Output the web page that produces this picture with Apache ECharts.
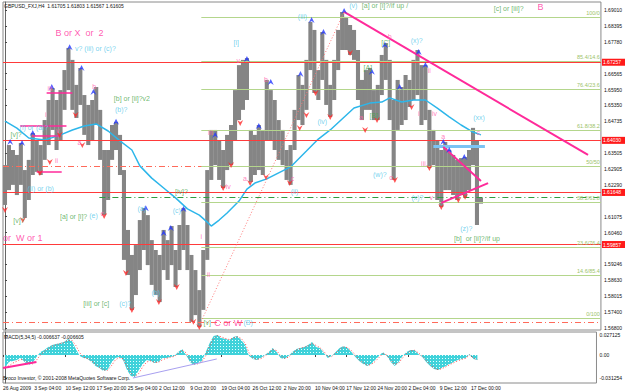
<!DOCTYPE html>
<html><head><meta charset="utf-8">
<script src="https://cdn.jsdelivr.net/npm/echarts@6/dist/echarts.min.js"></script>
<style>html,body{margin:0;padding:0;background:#fff}#c{width:625px;height:392px}</style>
</head><body><div id="c"></div>
<script>
// ---------- DATA ----------
const priceHigh = [1.6305,1.6382,1.6363,1.6344,1.6390,1.6286,1.6325,1.6428,1.6401,1.6382,
1.6478,1.6555,1.6601,1.6555,1.6593,1.6670,1.6755,1.6709,1.6613,1.6678,
1.6574,1.6536,1.6555,1.6605,1.6517,1.6363,1.6363,1.6459,1.6471,1.6421,
1.6286,1.6056,1.5960,1.5998,1.6094,1.6140,1.6113,1.6017,1.5979,1.5960,
1.6056,1.6017,1.6071,1.5979,1.6075,1.6140,1.6075,1.5960,1.5902,1.5825,
1.5979,1.6286,1.6440,1.6440,1.6401,1.6363,1.6421,1.6459,1.6593,1.6689,
1.6709,1.6716,1.6440,1.6421,1.6459,1.6440,1.6632,1.6593,1.6555,1.6478,
1.6440,1.6363,1.6382,1.6517,1.6651,1.6613,1.6709,1.6855,1.6824,1.6670,
1.6816,1.6709,1.6613,1.6709,1.6824,1.6893,1.6874,1.6843,1.6824,1.6747,
1.6632,1.6670,1.6678,1.6593,1.6613,1.6728,1.6774,1.6709,1.6555,1.6632,
1.6605,1.6651,1.6632,1.6709,1.6747,1.6689,1.6689,1.6517,1.6440,1.6401,
1.6363,1.6394,1.6363,1.6344,1.6325,1.6332,1.6336,1.6363,1.6448,1.6401,1.6180];
const priceLow = [1.6152,1.6209,1.6229,1.6190,1.6229,1.6102,1.6171,1.6267,1.6279,1.6267,
1.6325,1.6382,1.6440,1.6363,1.6401,1.6517,1.6593,1.6517,1.6486,1.6536,
1.6421,1.6382,1.6401,1.6459,1.6325,1.6113,1.6171,1.6325,1.6363,1.6267,
1.5941,1.5883,1.5749,1.5806,1.5902,1.5979,1.5921,1.5845,1.5806,1.5779,
1.5902,1.5864,1.5921,1.5837,1.5902,1.5979,1.5902,1.5703,1.5729,1.5683,
1.5749,1.5941,1.6248,1.6305,1.6248,1.6217,1.6286,1.6305,1.6401,1.6478,
1.6517,1.6555,1.6240,1.6267,1.6286,1.6267,1.6401,1.6401,1.6363,1.6325,
1.6305,1.6248,1.6229,1.6363,1.6478,1.6459,1.6517,1.6670,1.6582,1.6555,
1.6632,1.6536,1.6490,1.6555,1.6670,1.6747,1.6747,1.6728,1.6709,1.6555,
1.6478,1.6517,1.6517,1.6478,1.6478,1.6574,1.6632,1.6478,1.6248,1.6440,
1.6459,1.6478,1.6528,1.6555,1.6574,1.6459,1.6478,1.6294,1.6305,1.6171,
1.6144,1.6209,1.6209,1.6190,1.6171,1.6190,1.6183,1.6209,1.6305,1.6075,1.6157];
const maPoints = [[0,1.6474],[3,1.6447],[6,1.6409],[10,1.6401],[14,1.6421],[17,1.6440],[20,1.6455],
[23,1.6463],[26,1.6436],[29,1.6398],[32,1.6363],[34,1.6302],[37,1.6255],[40,1.6217],[43,1.6179],
[46,1.6137],[49,1.6113],[51,1.6086],[52,1.6071],[54,1.6094],[56,1.6121],[59,1.6167],[61,1.6213],
[63,1.6236],[66,1.6252],[69,1.6275],[72,1.6298],[76,1.6359],[79,1.6405],[82,1.6440],[85,1.6482],
[88,1.6524],[92,1.6543],[95,1.6547],[97,1.6563],[100,1.6547],[103,1.6555],[106,1.6555],[109,1.6524],
[112,1.6490],[115,1.6459],[118,1.6432],[120,1.6421]];
const macdHist = [-0.0177,-0.0095,-0.0082,-0.0068,-0.0041,-0.0095,-0.0136,-0.0109,-0.0027,0.0041,
0.0068,0.0109,0.0136,0.0150,0.0163,0.0177,0.0218,0.0190,0.0082,-0.0014,
-0.0041,-0.0054,-0.0095,-0.0150,-0.0177,-0.0218,-0.0204,-0.0109,-0.0041,-0.0027,
-0.0068,-0.0204,-0.0286,-0.0299,-0.0204,-0.0122,-0.0068,-0.0082,-0.0109,-0.0095,
-0.0041,-0.0041,-0.0027,-0.0014,0.0041,0.0082,0.0000,-0.0095,-0.0136,-0.0109,
-0.0082,0.0041,0.0163,0.0258,0.0272,0.0231,0.0218,0.0204,0.0245,0.0258,
0.0204,0.0136,-0.0014,-0.0054,-0.0068,-0.0041,0.0000,0.0041,0.0095,0.0041,
-0.0041,-0.0054,-0.0014,0.0041,0.0082,0.0095,0.0109,0.0136,0.0177,0.0109,
0.0095,0.0027,-0.0041,-0.0014,0.0041,0.0095,0.0122,0.0095,0.0041,-0.0027,
-0.0082,-0.0122,-0.0150,-0.0122,-0.0068,-0.0014,0.0041,-0.0014,-0.0095,-0.0150,
-0.0095,-0.0014,0.0041,0.0068,0.0068,0.0014,-0.0027,-0.0095,-0.0150,-0.0190,
-0.0204,-0.0177,-0.0150,-0.0122,-0.0095,-0.0068,-0.0054,-0.0041,0.0014,-0.0054,-0.0068];
const macdSignal = [-0.0160,-0.0150,-0.0110,-0.0085,-0.0060,-0.0070,-0.0110,-0.0120,-0.0070,0.0000,
0.0050,0.0085,0.0120,0.0140,0.0155,0.0170,0.0200,0.0200,0.0130,0.0030,
-0.0030,-0.0050,-0.0080,-0.0125,-0.0165,-0.0200,-0.0210,-0.0150,-0.0070,-0.0035,
-0.0050,-0.0150,-0.0250,-0.0290,-0.0250,-0.0160,-0.0095,-0.0080,-0.0100,-0.0100,
-0.0065,-0.0045,-0.0030,-0.0020,0.0020,0.0065,0.0030,-0.0060,-0.0120,-0.0120,
-0.0095,-0.0010,0.0120,0.0225,0.0265,0.0245,0.0225,0.0210,0.0230,0.0250,
0.0225,0.0160,0.0030,-0.0040,-0.0060,-0.0050,-0.0015,0.0025,0.0075,0.0060,
-0.0010,-0.0045,-0.0030,0.0020,0.0065,0.0090,0.0105,0.0125,0.0160,0.0130,
0.0100,0.0050,-0.0020,-0.0020,0.0025,0.0075,0.0110,0.0100,0.0060,0.0000,
-0.0065,-0.0105,-0.0140,-0.0130,-0.0090,-0.0035,0.0020,0.0000,-0.0070,-0.0130,
-0.0110,-0.0040,0.0020,0.0055,0.0065,0.0030,-0.0015,-0.0075,-0.0130,-0.0175,
-0.0200,-0.0185,-0.0160,-0.0130,-0.0105,-0.0080,-0.0060,-0.0045,0.0000,-0.0040,-0.0062];
const dateLabels = ['26 Aug 2009','3 Sep 04:00','10 Sep 12:00','17 Sep 20:00','25 Sep 04:00','2 Oct 12:00',
'9 Oct 20:00','19 Oct 04:00','26 Oct 12:00','2 Nov 20:00','10 Nov 04:00','17 Nov 12:00','24 Nov 20:00',
'2 Dec 04:00','9 Dec 12:00','17 Dec 00:00'];
const priceTicks = [1.69010,1.68395,1.67780,1.66565,1.65950,1.65350,1.64735,1.63505,1.62905,1.62290,
1.61075,1.60460,1.59246,1.58630,1.58015,1.57400,1.56800];
const macdTicks = [0.027125, 0, -0.031254];
const redLevels = [1.67257, 1.64030, 1.61648, 1.59857];
const redDashLevels = [1.6348, 1.5749];
const fibNames = ['100/0','85.4/14.6','76.4/23.6','61.8/38.2','50/50','38.2/61.8','23.6/76.4','14.6/85.4','0/100'];
const fibLevels = [1.6874,1.6705,1.6597,1.6440,1.6302,1.6163,1.5990,1.5883,1.5718];
const fibFromBar = 49.5;
const greenDashLevel = 1.6183, greenDashFromBar = 23.8;
const blueLevel = 1.6378, blueFromBar = 108, blueToBar = 121;
const upFractals = [[1.3,1.6394],[4.3,1.6390],[7,1.6428],[11.8,1.6605],[16.3,1.6758],[19.3,1.6678],[22.3,1.6586],
[28,1.6471],[35.5,1.6139],[40,1.6044],[41.8,1.6063],[45,1.6136],[53,1.6421],[61,1.6712],[64,1.6455],
[67,1.6624],[74.5,1.6655],[77.3,1.6862],[80.3,1.6816],[85.5,1.6897],[92.5,1.6663],[95.8,1.6766],
[99.5,1.6605],[104.3,1.6739],[106,1.6689],[110.5,1.6394],[112,1.6363],[115.8,1.6336]];
const downFractals = [[0,1.6133],[4.5,1.6094],[8.8,1.6275],[11.3,1.6317],[13.8,1.6421],[17.8,1.6497],
[19.5,1.6382],[25,1.6110],[30.5,1.5891],[32,1.5749],[38.8,1.5779],[43.3,1.5837],[47.5,1.5703],[49,1.5683],
[55,1.6217],[57,1.6305],[59.3,1.6467],[61.8,1.6236],[65.8,1.6259],[71.8,1.6236],[74.3,1.6447],[76,1.6497],
[78.3,1.6582],[82,1.6490],[87,1.6735],[90.8,1.6440],[93.8,1.6478],[98.3,1.6248],[102.5,1.6528],
[107,1.6294],[110,1.6144],[114.3,1.6171],[116,1.6183]];
const pinkTrend = [[[85.5,1.6893],[147,1.6344]],[[110.5,1.6375],[120,1.6244]],[[110,1.6160],[121.8,1.6236]]];
const pinkShort = [[[10.5,1.6582],[17,1.6582]],[[3.8,1.6455],[15.5,1.6455]],[[6.8,1.6417],[13.8,1.6417]],[[8,1.6279],[14.3,1.6279]]];
const dottedTrend = [[48.8,1.5683],[85.5,1.6893]];
const macdPinkLine = [[-0.5,-0.0177],[8,-0.0095]];
const macdPurpleLine = [[32.5,-0.0313],[53.8,-0.0054]];
const bigPinkText = [['B or X  or  2',18.8,1.6812],['or  W or 1',4.5,1.6025],['C or W',56.3,1.5699],['B',135,1.6912]];
const smallPinkText = [['iii',11.3,1.6601],['b',22.5,1.6605],['i',10.3,1.6498],['ii',13,1.6321],['v',13.3,1.6436],
['a',18.8,1.6390],['c',24.5,1.6121],['v',58.8,1.6705],['iii',51.8,1.6432],['iv',56.3,1.6221],['a',60.5,1.6255],
['c',72.5,1.6255],['b',65.8,1.6632],['i',49.5,1.6029],['ii',51.3,1.5883],['a',89.8,1.6486],['b',97,1.6797],
['c',97.3,1.6259],['ii',107,1.6670],['i',104.3,1.6505],['iv',108.3,1.6505],['iii',105.5,1.6313],['v',107.5,1.6179],
['c',119.3,1.6432],['a',110.5,1.6413]];
const cyanText = [['v? (iii) or (c)?',22.8,1.6751],['(b)?',29.3,1.6520],['(i) or (a)?',7.3,1.6451],['(ii) or (b)',9,1.6217],
['(e)',22.3,1.6113],['(a)',34.5,1.6140],['(c)',43.3,1.6132],['(c)?',30.3,1.5775],['(b)',38,1.5814],['(B)',61.3,1.5699],
['[i]',58.3,1.6774],['(ii)',73,1.6202],['(iii)',75,1.6874],['(iv)',80,1.6474],['(v)',87.8,1.6916],['(w)?',94.5,1.6267],
['(x)?',103.8,1.6785],['(xx)',119.5,1.6486],['(x)?',104,1.6179],['(z)?',116.3,1.6063]];
const greenText = [['[b] or [ii]?v2',32,1.6559],['[v]?',2.8,1.6421],['[v]?',3.5,1.6094],['[a] or [i]?',17.3,1.6106],
['[iv]?',44.5,1.6202],['[iii] or [c]',23,1.5775],['[v]',51,1.5699],['[a] or [i]?/if up /',95.8,1.6916],
['[c] or [iii]?',127,1.6908],['[A]',91.5,1.6678],['[B]',93,1.6497],['[C]',96,1.6774],['[b]  or [ii]?/if up',119,1.6025]];
const headerText = 'GBPUSD_FXJ,H4  1.61705 1.61803 1.61567 1.61605';
const macdText = 'MACD(5,34,5) -0.006637 -0.006605';
const copyText = 'Broco Investor, \u00a9 2001-2008 MetaQuotes Software Corp.';

// ---------- CHART ----------
const FONT = 'Liberation Sans';
const X_MAX = 150.25, TICK_STEP = 7.925;
const dateTickPos = dateLabels.map((_, k) => k * TICK_STEP - 0.5);

function dotPattern() {
  const c = document.createElement('canvas'); c.width = 3; c.height = 3;
  const g = c.getContext('2d');
  g.fillStyle = '#3fd2da'; g.fillRect(0, 0, 3, 3);
  g.fillStyle = '#e8ffff'; g.fillRect(1, 1, 1, 1);
  return c;
}
function textSeries(arr, color, size) {
  return {type:'scatter', xAxisIndex:0, yAxisIndex:0, symbolSize:1, silent:true, z:8,
    itemStyle:{color:'rgba(0,0,0,0)'},
    data: arr.map(a => [a[1], a[2], a[0]]),
    label:{show:true, position:'inside', formatter:p => p.value[2], color, fontSize:size, fontFamily:FONT}};
}
function seg(pts, style) { return [{coord:pts[0], lineStyle:style}, {coord:pts[1]}]; }

const mainLines = [];
redLevels.forEach(v => mainLines.push({yAxis:v, lineStyle:{color:'#ff3a3a', width:1, type:'solid'},
  label:{show:true, position:'end', formatter:v.toFixed(5), backgroundColor:'#ff1a1a', color:'#fff',
    fontSize:5, fontFamily:FONT, padding:[1,6,1,1], distance:1}}));
redDashLevels.forEach(v => mainLines.push({yAxis:v, lineStyle:{color:'#ff6a5a', width:1, type:[6,3,1,3]}}));
fibLevels.forEach((v, k) => mainLines.push([{coord:[fibFromBar, v], lineStyle:{color:'#b4d68c', width:1, type:'solid'},
  label:{show:true, position:'insideEndTop', formatter:fibNames[k], color:'#9cc36a', fontSize:5.5, fontFamily:FONT, distance:1}},
  {coord:[X_MAX, v]}]));
mainLines.push(seg([[greenDashFromBar, greenDashLevel],[X_MAX, greenDashLevel]], {color:'#2e9a3e', width:1, type:[6,3,1,3]}));
mainLines.push(seg([[blueFromBar, blueLevel],[blueToBar, blueLevel]], {color:'#7cc4f4', width:3, type:'solid'}));
pinkTrend.forEach(p => mainLines.push(seg(p, {color:'#ff2a9a', width:2, type:'solid'})));
pinkShort.forEach(p => mainLines.push(seg(p, {color:'#ff2a9a', width:1.5, type:'solid'})));
mainLines.push(seg(dottedTrend, {color:'#ff7a7a', width:1, type:[1,2]}));

const option = {
  animation:false,
  backgroundColor:'#ffffff',
  title:[
    {text:headerText, left:4, top:3, padding:0, textStyle:{fontSize:5, fontWeight:'normal', color:'#111', fontFamily:FONT}},
    {text:macdText, left:4, top:334, padding:0, textStyle:{fontSize:5, fontWeight:'normal', color:'#111', fontFamily:FONT}},
    {text:copyText, left:3, top:375, padding:0, textStyle:{fontSize:5, fontWeight:'normal', color:'#111', fontFamily:FONT}}
  ],
  grid:[
    {left:3, top:2, width:603, height:328, show:true, borderColor:'#8a8a8a', borderWidth:1, backgroundColor:'transparent'},
    {left:3, top:332, width:603, height:51, show:true, borderColor:'#8a8a8a', borderWidth:1, backgroundColor:'transparent'}
  ],
  xAxis:[
    {gridIndex:0, type:'value', min:-0.5, max:X_MAX, show:false},
    {gridIndex:1, type:'value', min:-0.5, max:X_MAX, splitLine:{show:false}, axisLine:{show:false},
      axisTick:{show:true, customValues:dateTickPos, length:2, lineStyle:{color:'#444'}},
      axisLabel:{customValues:dateTickPos, align:'left', margin:2, fontSize:5, color:'#111', fontFamily:FONT,
        formatter:v => dateLabels[Math.round((v + 0.5) / TICK_STEP)]}}
  ],
  yAxis:[
    {gridIndex:0, type:'value', position:'right', min:1.56718, max:1.69313, splitLine:{show:false},
      axisLine:{show:true, lineStyle:{color:'#666'}},
      axisTick:{show:true, customValues:priceTicks, length:2, lineStyle:{color:'#444'}},
      axisLabel:{customValues:priceTicks, margin:3, fontSize:5, color:'#111', fontFamily:FONT, formatter:v => v.toFixed(5)}},
    {gridIndex:1, type:'value', position:'right', min:-0.03808, max:0.03128, splitLine:{show:false},
      axisLine:{show:true, lineStyle:{color:'#666'}},
      axisTick:{show:true, customValues:macdTicks, length:2, lineStyle:{color:'#444'}},
      axisLabel:{customValues:macdTicks, margin:3, fontSize:5, color:'#111', fontFamily:FONT,
        formatter:v => v === 0 ? '0.00' : v.toFixed(6)}}
  ],
  series:[
    {type:'custom', xAxisIndex:0, yAxisIndex:0, z:2, silent:true,
      data: priceHigh.map((h, i) => [i, priceLow[i], h]),
      renderItem:(params, api) => {
        const a = api.coord([api.value(0), api.value(1)]);
        const b = api.coord([api.value(0), api.value(2)]);
        return {type:'line', shape:{x1:a[0], y1:a[1], x2:b[0], y2:b[1]}, style:{stroke:'#858585', lineWidth:4.1}};
      }},
    {type:'line', xAxisIndex:0, yAxisIndex:0, z:3, data:maPoints, symbol:'none', silent:true,
      lineStyle:{color:'#2db6ea', width:1.5},
      markLine:{silent:true, symbol:['none','none'], label:{show:false}, data:mainLines}},
    {type:'scatter', xAxisIndex:0, yAxisIndex:0, z:6, silent:true, data:upFractals,
      symbol:'path://M5 0 L10 10 L5 6.5 L0 10 Z', symbolSize:[6,6], itemStyle:{color:'#2438ff'}},
    {type:'scatter', xAxisIndex:0, yAxisIndex:0, z:6, silent:true, data:downFractals,
      symbol:'path://M0 0 L5 3.5 L10 0 L5 10 Z', symbolSize:[6,6], itemStyle:{color:'#ff2a2a'}},
    textSeries(bigPinkText, '#ff2f9c', 9),
    textSeries(smallPinkText, '#ff5fae', 7),
    textSeries(cyanText, '#55c8ea', 7),
    textSeries(greenText, '#4aa64a', 7),
    {type:'line', xAxisIndex:1, yAxisIndex:1, z:2, symbol:'none', silent:true,
      data: macdHist.map((v, i) => [i, v]),
      lineStyle:{width:0}, areaStyle:{color:{image:dotPattern(), repeat:'repeat'}, opacity:1, origin:0},
      markLine:{silent:true, symbol:['none','none'], label:{show:false}, data:[
        seg(macdPinkLine, {color:'#ff2a9a', width:2, type:'solid'}),
        seg(macdPurpleLine, {color:'#a8a0f0', width:1, type:'solid'})]}},
    {type:'line', xAxisIndex:1, yAxisIndex:1, z:3, symbol:'none', silent:true,
      data: macdSignal.map((v, i) => [i, v]),
      lineStyle:{color:'#ff4a4a', width:1, type:[1,2]}}
  ]
};
const chart = echarts.init(document.getElementById('c'), null, {renderer:'svg'});
chart.setOption(option);
</script></body></html>
